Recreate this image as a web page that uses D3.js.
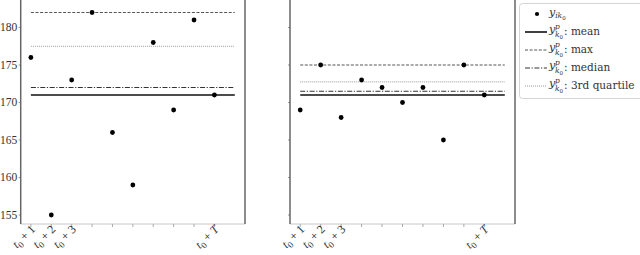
<!DOCTYPE html>
<html>
<head>
<meta charset="utf-8">
<script src="https://cdn.jsdelivr.net/npm/d3@7"></script>
<style>
  body { margin: 0; background: #fff; }
  svg text { font-family: "Liberation Serif", "DejaVu Serif", serif; }
  .lgd text { font-family: "DejaVu Serif", serif; }
</style>
</head>
<body>
<svg id="chart" width="640" height="255"></svg>
<script>
// time steps t0+1 ... t0+T
const steps = [1, 2, 3, 4, 5, 6, 7, 8, 9, 10];
const stepLabels = ['1', '2', '3', '', '', '', '', '', '', 'T'];
const yTicks = [155, 160, 165, 170, 175, 180];

const seriesLeft = [176, 155, 173, 182, 166, 159, 178, 169, 181, 171];
const seriesRight = [169, 175, 168, 173, 172, 170, 172, 165, 175, 171];

const statNames = ['mean', 'max', 'median', '3rd quartile'];

const svg = d3.select('#chart');

const y = d3.scaleLinear().domain([155, 180]).range([215, 27.5]);
const bottom = 224;

const lineStyle = {
  mean: { stroke: '#111', width: 1.6, dash: null },
  max: { stroke: '#555', width: 1, dash: '3,1.6' },
  median: { stroke: '#333', width: 1, dash: '5,1.6,1.2,1.6' },
  '3rd quartile': { stroke: '#999', width: 1, dash: '1,1' }
};

const stats = values => {
  const s = values.slice().sort(d3.ascending);
  return {
    mean: d3.mean(s),
    max: d3.max(s),
    median: d3.median(s),
    '3rd quartile': d3.quantileSorted(s, 0.75)
  };
};

function drawPanel(values, x0, x1, showY) {
  const x = d3.scaleLinear().domain([0.5, 11.5]).range([x0, x1]);
  const g = svg.append('g');

  // bottom axis
  g.append('line')
    .attr('x1', x0).attr('x2', x1)
    .attr('y1', bottom).attr('y2', bottom)
    .attr('stroke', '#c8c8c8').attr('stroke-width', 1);
  g.selectAll('.xt')
    .data(steps).enter().append('line')
    .attr('x1', d => x(d)).attr('x2', d => x(d))
    .attr('y1', bottom).attr('y2', bottom + 3)
    .attr('stroke', '#aaa').attr('stroke-width', 1);

  // rotated labels t0 + k
  steps.forEach((d, i) => {
    if (!stepLabels[i]) return;
    const t = g.append('text')
      .attr('transform', `translate(${x(d) + 5},${bottom + 6})rotate(-45)`)
      .attr('text-anchor', 'end')
      .style('font-size', '12px')
      .attr('fill', '#333');
    t.append('tspan').style('font-style', 'italic').text('t');
    t.append('tspan').attr('dy', 3).style('font-size', '9px').text('0');
    t.append('tspan').attr('dy', -3).text(' + ');
    t.append('tspan')
      .style('font-style', stepLabels[i] === 'T' ? 'italic' : 'normal')
      .text(stepLabels[i]);
  });

  // y ticks
  g.selectAll('.yt')
    .data(yTicks).enter().append('line')
    .attr('x1', x0 - 2).attr('x2', x0)
    .attr('y1', d => y(d)).attr('y2', d => y(d))
    .attr('stroke', '#999');
  if (showY) {
    g.selectAll('.yl')
      .data(yTicks).enter().append('text')
      .attr('x', x0 - 3.5)
      .attr('y', d => y(d) + 3.8)
      .attr('text-anchor', 'end')
      .style('font-size', '11.5px')
      .attr('fill', '#333')
      .text(d => d);
  }

  // spines
  [x0, x1].forEach(sx => {
    g.append('line')
      .attr('x1', sx).attr('x2', sx)
      .attr('y1', -2).attr('y2', bottom)
      .attr('stroke', '#666').attr('stroke-width', 1.5);
  });

  // statistic lines
  const st = stats(values);
  statNames.slice().reverse().forEach(name => {
    const ls = lineStyle[name];
    g.append('line')
      .attr('x1', x(1)).attr('x2', x(11))
      .attr('y1', y(st[name])).attr('y2', y(st[name]))
      .attr('stroke', ls.stroke)
      .attr('stroke-width', ls.width)
      .attr('stroke-dasharray', ls.dash);
  });

  // points
  g.selectAll('circle')
    .data(values).enter().append('circle')
    .attr('cx', (d, i) => x(steps[i]))
    .attr('cy', d => y(d))
    .attr('r', 2.4)
    .attr('fill', '#000');
}

drawPanel(seriesLeft, 20.7, 245, true);
drawPanel(seriesRight, 290, 515, false);

// legend
const lg = svg.append('g').attr('class', 'lgd');
lg.append('rect')
  .attr('x', 519.5).attr('y', 3.5)
  .attr('width', 140).attr('height', 95)
  .attr('rx', 3)
  .attr('fill', '#fff')
  .attr('stroke', '#d4d4d4');

const rowY = [14, 32, 50, 68, 86];
const hx0 = 525, hx1 = 547, tx = 549;

lg.append('circle').attr('cx', 537).attr('cy', rowY[0]).attr('r', 2.1).attr('fill', '#000');
const t0 = lg.append('text').attr('x', tx).attr('y', rowY[0] + 2).style('font-size', '11px').attr('fill', '#333');
t0.append('tspan').style('font-style', 'italic').text('y');
t0.append('tspan').attr('dy', 2).style('font-size', '7.5px').style('font-style', 'italic').text('ik');
t0.append('tspan').attr('dy', 1.5).style('font-size', '5.5px').text('0');

statNames.forEach((name, i) => {
  const ry = rowY[i + 1];
  const ls = lineStyle[name];
  lg.append('line')
    .attr('x1', hx0).attr('x2', hx1)
    .attr('y1', ry).attr('y2', ry)
    .attr('stroke', ls.stroke)
    .attr('stroke-width', ls.width)
    .attr('stroke-dasharray', ls.dash);
  lg.append('text').attr('x', tx).attr('y', ry + 1)
    .style('font-size', '11px').style('font-style', 'italic').attr('fill', '#333').text('y');
  lg.append('text').attr('x', tx + 6).attr('y', ry - 3.5)
    .style('font-size', '7.5px').style('font-style', 'italic').attr('fill', '#333').text('p');
  const sub = lg.append('text').attr('x', tx + 6).attr('y', ry + 5)
    .style('font-size', '7.5px').attr('fill', '#333');
  sub.append('tspan').style('font-style', 'italic').text('k');
  sub.append('tspan').attr('dy', 1.5).style('font-size', '5.5px').text('0');
  lg.append('text').attr('x', tx + 15).attr('y', ry + 3)
    .style('font-size', '10.5px').attr('fill', '#333').text(': ' + name);
});
</script>
</body>
</html>
